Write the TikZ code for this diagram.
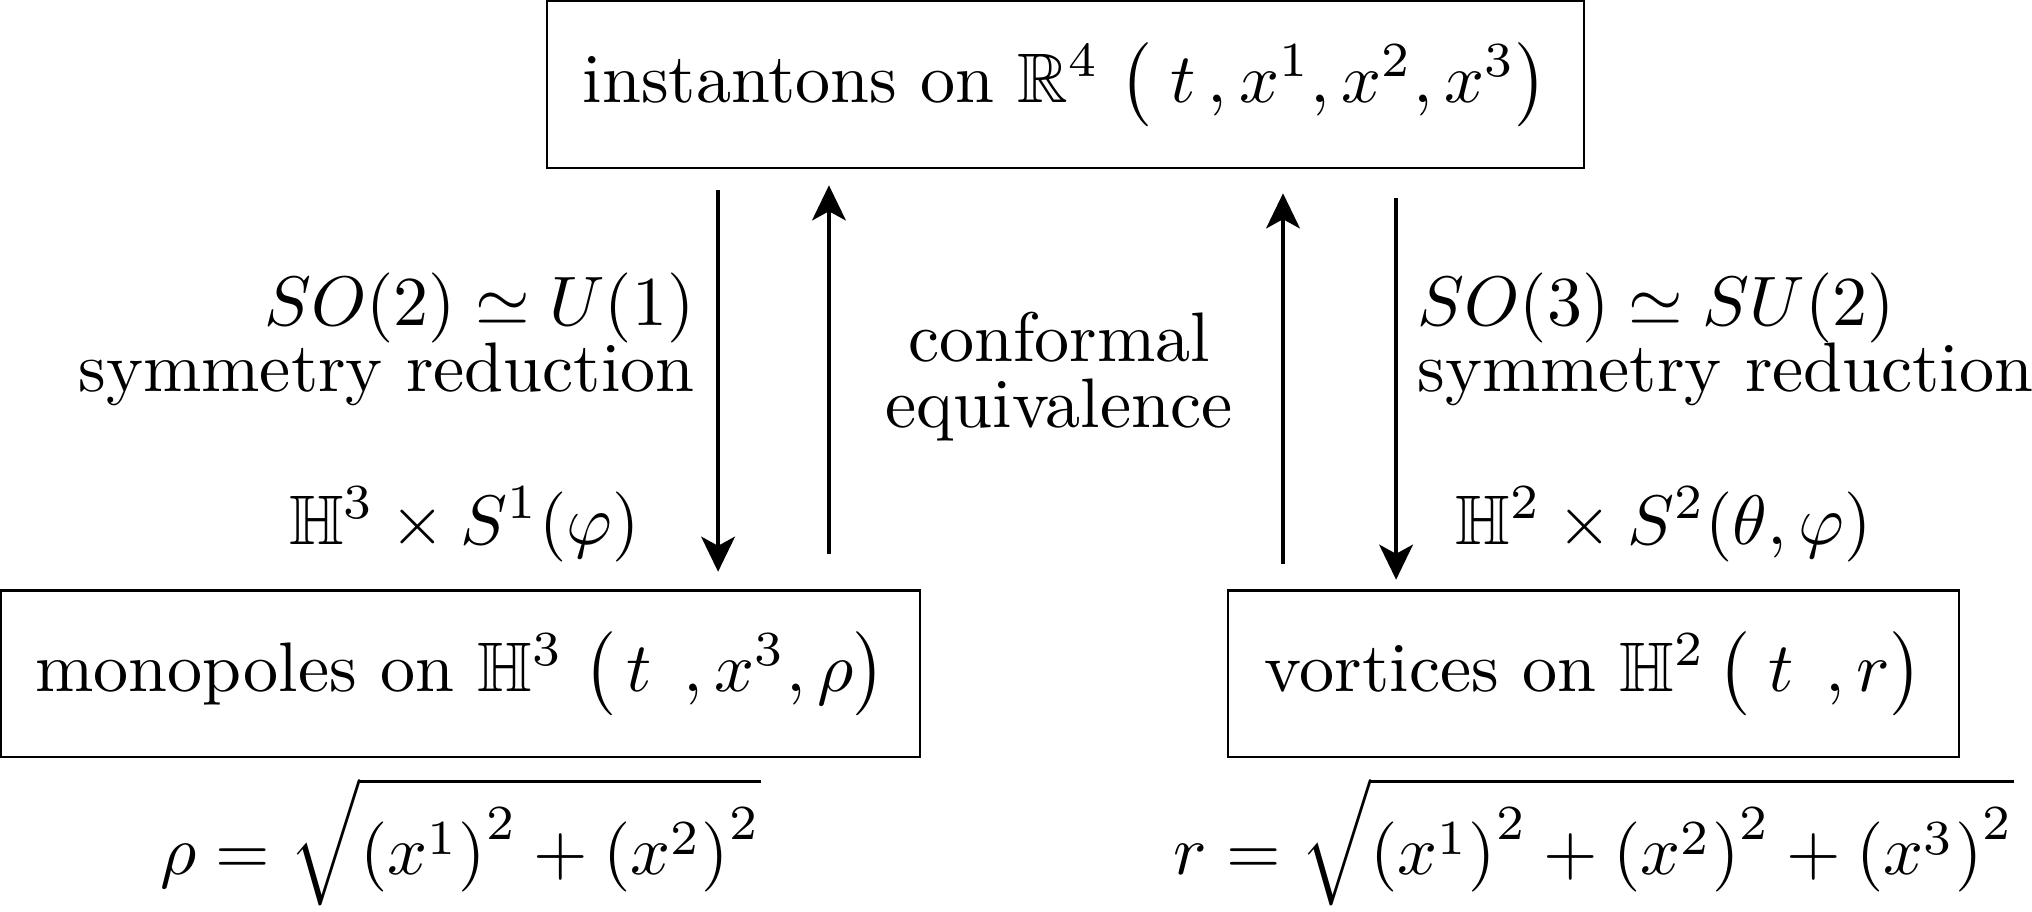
\documentclass[tikz,border=0pt]{standalone}
\usepackage{amsmath}
\usepackage{amssymb}
\usepackage{tikz}
\usetikzlibrary{arrows.meta, positioning, calc}

\begin{document}
\begin{tikzpicture}[
  box/.style={rectangle, draw, line width=0.4pt, minimum height=0.837cm, inner sep=0pt},
  lbl/.style={inner sep=0pt, font=\fontsize{10}{9.5}\selectfont},
  arr/.style={-{Stealth[length=5pt, width=4.8pt, inset=1.3pt]}, line width=0.6pt}
]
  \useasboundingbox (0,0) rectangle (10.19,4.569);

  % Spaces
  \node[box, minimum width=5.20cm] (inst) at (5.343,4.145)
    {instantons on $\mathbb{R}^4\;\big(\;t\,, x^1, x^2, x^3\big)$};
  \node[box, minimum width=4.609cm] (mono) at (2.309,1.191)
    {monopoles on $\mathbb{H}^3\;\big(\,t\;\,, x^3, \rho\big)$};
  \node[box, minimum width=3.666cm] (vort) at (7.991,1.191)
    {vortices on $\mathbb{H}^2\,\big(\;t\;\,, r\big)$};

  % Reductions
  \coordinate (xa) at (3.601,0);
  \coordinate (xb) at (4.157,0);
  \coordinate (xc) at (6.434,0);
  \coordinate (xd) at (7.001,0);
  \draw[arr, shorten <=0.105cm, shorten >=0.085cm] (inst.south -| xa) -- (mono.north -| xa);
  \draw[arr, shorten <=0.176cm, shorten >=0.08cm] (mono.north -| xb) -- (inst.south -| xb);
  \draw[arr, shorten <=0.125cm, shorten >=0.12cm] (vort.north -| xc) -- (inst.south -| xc);
  \draw[arr, shorten <=0.145cm, shorten >=0.045cm] (inst.south -| xd) -- (vort.north -| xd);

  % Labels
  \node[lbl, anchor=east, align=right] (redL) at (3.490,2.866)
    {$SO(2)\simeq U(1)$\\symmetry reduction};
  \node[lbl, anchor=west, align=left] (redR) at (7.101,2.866)
    {$SO(3)\simeq SU(2)$\\symmetry reduction};
  \node[lbl, align=center] (conf) at (5.311,2.681) {conformal\\equivalence};
  \node[lbl, anchor=base east] (prodL) at (3.215,1.840) {$\mathbb{H}^3\times S^1(\varphi)$};
  \node[lbl, anchor=base west] (prodR) at (7.292,1.840) {$\mathbb{H}^2\times S^2(\theta,\varphi)$};

  % Radii
  \node[below=-0.3mm of mono] (rho)
    {$\displaystyle\rho=\sqrt{\left(x^1\right)^2+\left(x^2\right)^2}$};
  \node[below=-0.3mm of vort] (rad)
    {$\displaystyle r=\sqrt{\left(x^1\right)^2+\left(x^2\right)^2+\left(x^3\right)^2}$};
\end{tikzpicture}
\end{document}
